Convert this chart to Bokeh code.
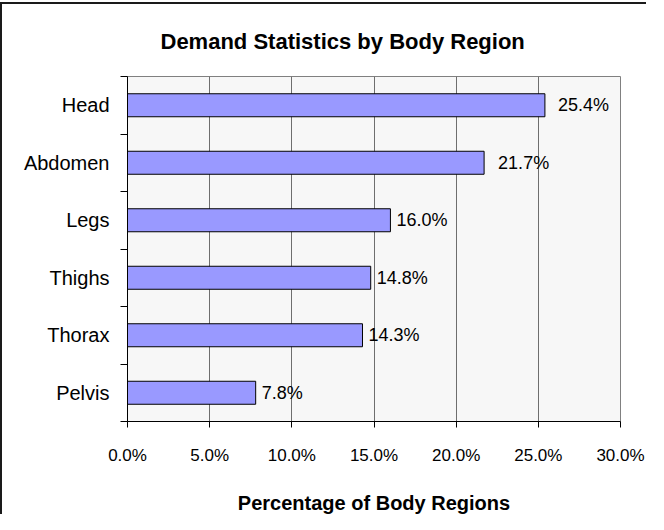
from bokeh.plotting import figure
from bokeh.models import ColumnDataSource, FixedTicker, PrintfTickFormatter, Range1d, Title
from bokeh.core.properties import value
from bokeh.embed import file_html
from bokeh.resources import INLINE

# ---- data (bottom to top) ----
categories = ["Pelvis", "Thorax", "Thighs", "Legs", "Abdomen", "Head"]
percentages = [7.8, 14.3, 14.8, 16.0, 21.7, 25.4]
x_ticks = [0, 5, 10, 15, 20, 25, 30]

# style: gap between bar end and its label (px)
label_gaps = [6, 6, 6, 6, 14, 13]

FONT = "Liberation Sans"

n = len(categories)
ypos = [i + 0.5 for i in range(n)]
labels = ["%.1f%%" % v for v in percentages]

src = ColumnDataSource(dict(y=ypos, v=percentages, lab=labels, gap=label_gaps, cat=categories))

p = figure(width=646, height=512, output_backend="svg", toolbar_location=None,
           x_range=Range1d(0, 30), y_range=Range1d(0, n),
           min_border_left=125, min_border_right=28, min_border_top=72, min_border_bottom=86)

p.styles = {"border-left": "2px solid #1a1a1a", "border-top": "2px solid #1a1a1a",
            "margin-top": "2px"}

p.background_fill_color = "#F7F7F7"
p.border_fill_color = "white"
p.outline_line_color = "#808080"
p.outline_line_width = 1

p.hbar(y="y", right="v", left=0, height=0.4, source=src,
       fill_color="#9999FF", line_color="#000000", line_width=1)

p.text(x="v", y="y", text="lab", source=src, x_offset="gap",
       text_align="left", text_baseline="middle",
       text_font=value(FONT), text_font_size="18px", text_color="#000000")

# x axis
p.xaxis.ticker = FixedTicker(ticks=x_ticks)
p.xaxis.formatter = PrintfTickFormatter(format="%.1f%%")
p.xaxis.major_label_text_font = FONT
p.xaxis.major_label_text_font_size = "17px"
p.xaxis.major_label_text_color = "#000000"
p.xaxis.major_tick_out = 6
p.xaxis.major_tick_in = 0
p.xaxis.minor_tick_out = 0
p.xaxis.minor_tick_in = 0
p.xaxis.major_label_standoff = 18
p.xaxis.axis_line_color = "#000000"
p.xaxis.major_tick_line_color = "#000000"
p.xaxis.axis_label = "Percentage of Body Regions"
p.xaxis.axis_label_text_font = FONT
p.xaxis.axis_label_text_font_style = "bold"
p.xaxis.axis_label_text_font_size = "20px"
p.xaxis.axis_label_text_color = "#000000"
p.xaxis.axis_label_standoff = 24

# y axis: labels at centers, ticks at boundaries
p.yaxis.ticker = FixedTicker(ticks=ypos, minor_ticks=list(range(n + 1)))
p.yaxis.major_label_overrides = {y: c for y, c in zip(ypos, categories)}
p.yaxis.major_label_text_font = FONT
p.yaxis.major_label_text_font_size = "20px"
p.yaxis.major_label_text_color = "#000000"
p.yaxis.major_tick_out = 0
p.yaxis.major_tick_in = 0
p.yaxis.minor_tick_out = 7
p.yaxis.minor_tick_in = 0
p.yaxis.minor_tick_line_color = "#000000"
p.yaxis.axis_line_color = "#000000"
p.yaxis.major_label_standoff = 11

p.xgrid.ticker = FixedTicker(ticks=x_ticks)
p.xgrid.grid_line_color = "#6E6E6E"
p.xgrid.grid_line_width = 1
p.ygrid.grid_line_color = None

p.title = Title(text="Demand Statistics by Body Region", align="left", offset=33,
                text_font=FONT, text_font_style="bold", text_font_size="22px",
                text_color="#000000", standoff=45)

open("out.html", "w").write(file_html(p, INLINE))
